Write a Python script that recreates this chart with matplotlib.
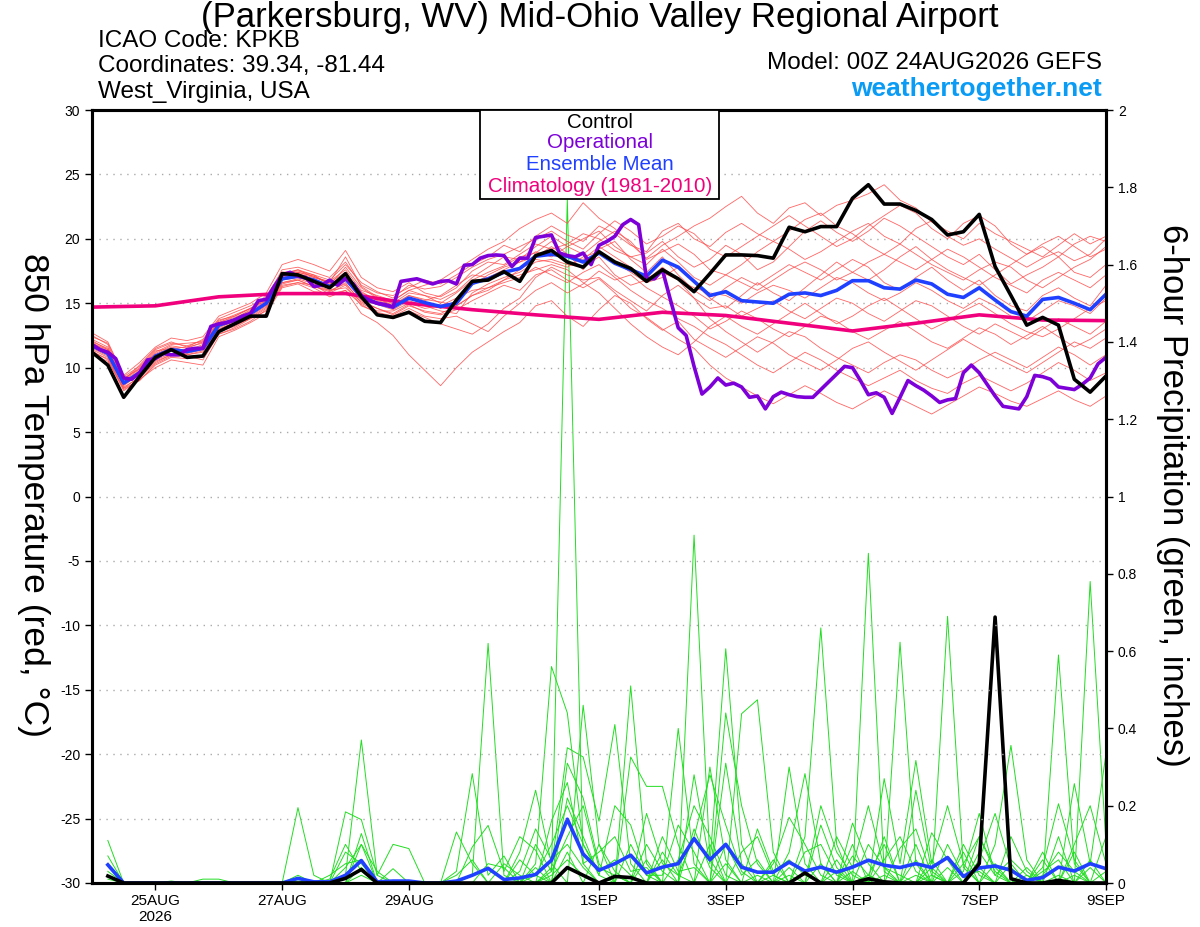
import matplotlib
matplotlib.use('Agg')
import matplotlib.pyplot as plt
import numpy as np
from matplotlib.patches import Rectangle

plt.rc('font', family=['Liberation Sans', 'DejaVu Sans'], size=10)
plt.rc('axes', unicode_minus=False)

############################## data (6-hourly from 00Z 24AUG2026) ##############################
control_t = [11.2, 10.2, 7.7, 9.3, 10.8, 11.4, 10.8, 10.9, 12.8, 13.4,
             14.0, 14.0, 17.3, 17.2, 16.7, 16.2, 17.3, 15.5, 14.1, 13.9,
             14.3, 13.6, 13.5, 15.25, 16.7, 16.8, 17.45, 16.7, 18.7, 19.1,
             18.2, 17.8, 19.0, 18.2, 17.7, 16.7, 17.6, 16.9, 15.9, 17.3,
             18.75, 18.75, 18.7, 18.5, 20.9, 20.55, 20.95, 20.95, 23.15, 24.2,
             22.7, 22.7, 22.2, 21.5, 20.3, 20.55, 21.9, 17.85, 15.6, 13.3,
             13.9, 13.3, 9.1, 8.1, 9.35]

mean_t = [11.7, 11.1, 8.8, 9.6, 10.9, 11.4, 11.25, 11.5, 13.3, 13.7,
          14.2, 15.0, 16.9, 17.1, 16.8, 16.3, 16.9, 15.5, 15.0, 14.7,
          15.4, 15.05, 14.75, 15.0, 16.55, 16.9, 17.4, 17.7, 18.65, 18.8,
          18.65, 18.2, 18.9, 18.1, 17.6, 17.1, 18.35, 17.8, 16.7, 15.6,
          15.9, 15.2, 15.1, 15.0, 15.7, 15.8, 15.6, 16.0, 16.75, 16.75,
          16.2, 16.1, 16.8, 16.5, 15.7, 15.45, 16.2, 15.25, 14.35, 14.0,
          15.3, 15.45, 15.0, 14.5, 15.7]

# operational run is 3-hourly
oper_t = [11.8, 11.4, 11.2, 10.7, 9.2, 9.1, 9.6, 10.6, 10.7, 11.1,
          11.0, 11.0, 11.4, 11.5, 11.5, 13.2, 13.4, 13.5, 13.7, 14.0,
          14.2, 15.2, 15.3, 16.3, 17.2, 17.4, 17.1, 17.0, 16.3, 16.4,
          16.8, 16.4, 16.9, 16.5, 15.6, 15.2, 15.0, 14.9, 14.7, 16.7,
          16.8, 16.9, 16.7, 16.5, 16.7, 16.75, 16.5, 17.95, 18.0, 18.5,
          18.7, 18.75, 18.7, 17.85, 18.5, 18.5, 20.1, 20.2, 20.3, 18.9,
          18.7, 18.6, 18.9, 18.0, 19.5, 19.8, 20.2, 21.1, 21.5, 21.1,
          16.9, 16.9, 17.6, 15.3, 13.1, 12.5, 10.1, 7.95, 8.5, 9.2,
          8.65, 8.8, 8.5, 7.7, 7.8, 6.8, 7.75, 8.1, 7.9, 7.75,
          7.7, 7.7, 8.3, 8.9, 9.5, 10.1, 10.0, 9.0, 7.9, 8.05,
          7.7, 6.45, 7.7, 9.0, 8.6, 8.25, 7.8, 7.3, 7.5, 7.6,
          9.6, 10.2, 9.6, 8.7, 7.8, 7.0, 6.9, 6.8, 7.75, 9.4,
          9.3, 9.1, 8.5, 8.4, 8.3, 8.7, 9.2, 10.3, 10.8]

# climatology, daily
clim_t = [14.7, 14.8, 15.5, 15.75, 15.75, 15.0, 14.5, 14.1, 13.75, 14.3,
          14.05, 13.45, 12.85, 13.45, 14.1, 13.7, 13.65]

members_t = [
    [12.5, 11.8, 9.0, 10.2, 11.5, 12.0, 11.6, 12.2, 13.8, 14.3,
     14.8, 15.4, 17.6, 17.8, 17.4, 17.0, 18.2, 16.4, 15.8, 15.6,
     16.2, 16.8, 16.5, 17.2, 18.0, 18.6, 19.5, 19.0, 20.2, 21.0,
     20.3, 19.8, 21.0, 20.4, 19.5, 19.0, 20.6, 21.2, 20.0, 19.4,
     20.5, 21.2, 20.4, 19.8, 20.6, 21.5, 22.0, 21.0, 20.4, 19.5,
     18.8, 19.6, 20.8, 21.4, 20.2, 19.5, 20.0, 19.2, 18.5, 17.8,
     18.5, 19.0, 18.3, 18.8, 20.0],
    [11.0, 10.5, 8.4, 9.0, 10.2, 10.8, 10.7, 11.0, 12.6, 13.0,
     13.6, 14.5, 16.4, 16.6, 16.2, 15.5, 16.0, 14.2, 13.5, 12.5,
     11.0, 9.8, 8.6, 10.0, 11.2, 12.0, 12.8, 13.5, 14.8, 15.2,
     14.0, 13.2, 14.5, 15.6, 15.0, 13.8, 12.9, 13.6, 12.2, 11.5,
     10.8, 11.6, 12.4, 11.9, 11.0, 10.4, 9.8, 10.6, 11.5, 12.0,
     11.2, 10.5, 9.8, 10.6, 11.4, 12.2, 11.5, 10.8, 10.2, 9.6,
     10.4, 11.2, 12.0, 11.5, 12.3],
    [12.0, 11.5, 9.2, 9.9, 11.2, 11.8, 11.9, 12.0, 13.6, 14.1,
     14.6, 15.2, 17.2, 17.6, 17.0, 16.7, 17.6, 16.0, 15.6, 15.2,
     16.0, 16.4, 16.8, 17.6, 18.4, 19.2, 19.8, 20.8, 21.5, 22.0,
     21.2, 22.8, 21.6, 20.8, 19.6, 18.5, 19.5, 20.2, 21.0, 21.6,
     22.5, 23.3, 22.0, 21.2, 22.4, 22.8, 21.8, 22.6, 23.0, 23.5,
     24.2, 23.0, 22.4, 21.3, 20.6, 20.0, 21.2, 20.4, 19.8, 19.2,
     18.6, 19.5, 20.4, 19.6, 20.2],
    [11.5, 10.9, 8.6, 9.5, 10.6, 11.1, 11.0, 11.2, 13.0, 13.5,
     14.0, 14.8, 16.6, 16.9, 16.5, 16.0, 16.5, 15.2, 14.6, 14.2,
     14.9, 14.3, 14.1, 14.5, 15.2, 15.8, 16.4, 16.0, 17.2, 17.6,
     16.8, 16.2, 16.9, 15.8, 14.6, 13.9, 13.0, 12.2, 11.5, 10.2,
     9.2, 8.5, 7.8, 7.2, 7.9, 8.6, 8.0, 7.3, 6.8, 7.5,
     8.2, 7.6, 7.0, 6.4, 7.1, 7.8, 8.5, 8.0, 7.4, 7.0,
     7.6, 8.2, 7.5, 7.0, 7.8],
    [12.7, 12.0, 9.4, 10.4, 11.6, 12.3, 12.1, 12.4, 14.0, 14.5,
     15.0, 15.8, 18.0, 18.4, 18.0, 17.5, 19.1, 17.0, 16.2, 15.9,
     16.6, 15.8, 15.5, 16.2, 17.5, 18.2, 18.0, 18.8, 19.6, 19.2,
     19.6, 20.4, 20.0, 19.1, 18.6, 18.9, 19.8, 18.6, 17.8, 18.4,
     19.5, 18.8, 17.6, 18.2, 19.4, 20.6, 21.4, 20.5, 19.8, 20.6,
     21.6, 21.0, 20.2, 19.4, 18.6, 18.0, 18.8, 17.6, 16.5, 17.2,
     17.8, 18.6, 17.4, 17.0, 18.0],
    [11.3, 10.6, 8.2, 9.1, 10.0, 10.6, 10.4, 10.2, 12.4, 12.9,
     13.5, 14.2, 16.2, 16.5, 15.9, 15.8, 16.4, 14.8, 14.3, 14.0,
     14.6, 14.0, 13.8, 14.0, 13.4, 12.8, 14.0, 15.0, 16.0, 16.6,
     15.8, 16.5, 17.5, 16.8, 17.2, 16.2, 15.5, 14.8, 14.0, 13.0,
     13.6, 14.4, 13.8, 13.0, 12.4, 13.2, 14.0, 13.6, 12.8, 12.2,
     12.9, 13.6, 12.8, 12.0, 11.5, 12.3, 13.1, 12.6, 11.8, 12.5,
     13.2, 12.4, 11.6, 12.2, 13.0],
    [11.9, 11.3, 8.9, 9.8, 11.0, 11.6, 11.3, 11.8, 13.5, 13.9,
     14.4, 15.2, 17.0, 17.3, 17.0, 16.6, 17.4, 15.8, 15.3, 15.0,
     15.8, 15.6, 15.0, 15.8, 16.8, 17.4, 17.9, 18.6, 18.9, 19.8,
     18.8, 17.6, 19.2, 19.8, 18.4, 17.4, 18.6, 17.2, 16.0, 15.2,
     16.2, 17.0, 16.4, 17.2, 18.0, 17.4, 16.8, 17.6, 18.4, 17.8,
     16.6, 16.0, 17.0, 17.8, 16.8, 16.0, 16.8, 15.6, 14.8, 14.4,
     15.6, 16.2, 15.4, 14.8, 16.4],
    [11.6, 11.0, 8.5, 9.2, 10.4, 11.0, 11.4, 11.6, 12.9, 13.3,
     13.8, 14.4, 16.3, 16.6, 16.4, 15.7, 16.0, 14.9, 14.2, 13.8,
     14.4, 13.9, 13.4, 13.0, 12.6, 13.4, 14.6, 15.4, 17.0, 17.8,
     17.2, 16.8, 17.0, 16.0, 15.2, 14.4, 15.6, 16.4, 15.4, 13.8,
     12.8, 12.0, 11.2, 12.0, 12.8, 12.4, 11.5, 10.8, 10.2, 9.6,
     10.4, 11.0, 10.6, 9.8, 9.2, 9.8, 10.6, 11.2, 10.6, 10.0,
     10.8, 11.6, 11.0, 10.2, 11.0],
    [12.2, 11.6, 9.1, 10.0, 11.3, 11.5, 11.6, 11.9, 13.4, 13.8,
     14.5, 15.6, 17.4, 17.5, 17.2, 16.4, 17.8, 16.2, 15.4, 14.8,
     15.6, 15.2, 15.6, 16.4, 17.2, 17.0, 17.6, 18.2, 19.0, 18.6,
     19.4, 18.8, 19.8, 20.6, 19.8, 18.4, 19.0, 19.6, 18.8, 17.6,
     17.2, 18.0, 19.0, 19.8, 19.2, 18.4, 19.0, 19.8, 20.6, 21.2,
     20.2, 19.6, 18.8, 18.0, 17.4, 16.8, 17.6, 18.2, 17.8, 16.8,
     16.2, 17.0, 17.8, 18.4, 19.4],
    [11.8, 11.2, 8.7, 9.4, 10.8, 11.3, 11.0, 11.3, 13.2, 13.6,
     14.1, 14.9, 16.8, 17.0, 16.6, 16.2, 16.8, 15.3, 14.9, 14.5,
     15.2, 14.8, 14.4, 14.2, 15.8, 16.5, 17.0, 17.4, 18.2, 18.4,
     18.0, 17.8, 18.6, 17.2, 16.4, 16.8, 17.8, 16.8, 15.4, 14.6,
     14.8, 14.0, 14.6, 15.2, 14.4, 13.8, 14.6, 15.4, 15.0, 14.2,
     13.6, 14.4, 15.2, 14.8, 14.0, 13.2, 12.6, 13.4, 12.8, 12.2,
     13.0, 13.8, 13.2, 12.6, 13.6],
    [12.4, 11.9, 9.3, 10.1, 11.4, 11.9, 11.7, 12.1, 13.7, 14.0,
     14.6, 15.3, 17.3, 17.6, 17.2, 16.8, 18.0, 16.6, 15.9, 15.4,
     16.4, 16.1, 16.3, 17.0, 17.8, 18.4, 18.8, 19.4, 20.0, 20.6,
     19.8, 19.2, 20.4, 21.4, 20.6, 19.6, 20.2, 21.0, 20.4, 19.2,
     18.6, 19.4, 20.2, 21.0, 21.8, 21.0, 20.2, 19.4, 20.0, 21.0,
     21.8, 22.6, 22.0, 20.8, 20.0, 21.2, 21.8, 21.0, 19.6, 18.8,
     19.6, 20.2, 19.4, 18.6, 19.2],
    [11.4, 10.8, 8.3, 9.0, 10.3, 10.9, 10.9, 10.6, 12.6, 13.1,
     13.8, 14.6, 16.6, 16.8, 16.3, 15.9, 16.6, 15.0, 14.4, 14.4,
     15.0, 14.6, 14.8, 15.4, 16.0, 16.2, 16.8, 17.2, 17.6, 18.0,
     17.6, 16.6, 15.8, 14.6, 13.4, 12.4, 11.6, 11.0, 12.0, 13.2,
     14.0, 13.2, 12.6, 13.4, 14.2, 15.0, 14.2, 13.4, 14.0, 14.8,
     15.4, 14.6, 13.8, 13.0, 13.6, 14.4, 15.0, 14.2, 13.4, 12.8,
     12.4, 13.0, 13.8, 14.6, 15.2],
    [12.1, 11.4, 9.0, 9.9, 11.1, 11.7, 11.5, 12.0, 13.5, 14.0,
     14.6, 15.4, 17.1, 17.4, 17.1, 16.6, 18.6, 16.3, 15.5, 15.2,
     16.0, 15.6, 15.3, 15.9, 17.0, 17.8, 18.6, 18.4, 19.4, 20.2,
     19.4, 20.0, 20.6, 19.4, 18.6, 18.0, 19.2, 18.2, 17.0, 16.4,
     17.2, 16.6, 16.0, 16.8, 17.6, 18.2, 17.6, 16.8, 17.4, 18.2,
     18.8, 18.2, 17.6, 18.4, 19.2, 18.6, 17.8, 17.0, 16.4, 15.8,
     16.8, 17.4, 16.8, 16.2, 17.2],
    [11.2, 10.7, 8.4, 9.3, 10.5, 11.0, 11.1, 11.4, 12.8, 13.2,
     13.9, 14.7, 16.5, 16.8, 16.3, 16.0, 16.2, 15.1, 14.6, 14.1,
     14.8, 14.4, 14.2, 14.8, 15.6, 16.2, 16.6, 17.0, 17.8, 17.2,
     16.6, 17.4, 18.0, 17.0, 16.0, 15.2, 14.6, 13.8, 13.2, 12.4,
     11.8, 11.0, 10.2, 9.6, 10.4, 11.2, 10.6, 9.8, 9.2, 8.6,
     9.2, 9.8, 9.0, 8.4, 8.0, 8.8, 9.4, 8.8, 8.2, 8.8,
     9.6, 10.4, 9.8, 9.0, 9.6],
    [11.7, 11.1, 8.8, 9.7, 10.9, 11.4, 11.4, 11.4, 13.1, 13.6,
     14.2, 15.0, 17.0, 17.2, 16.9, 16.4, 17.0, 15.6, 15.1, 14.8,
     15.4, 15.0, 14.6, 15.2, 16.4, 17.2, 17.8, 18.2, 18.6, 19.4,
     18.6, 18.4, 19.4, 18.6, 17.8, 17.0, 17.4, 16.8, 16.2, 15.8,
     15.6, 15.0, 15.8, 16.4, 16.0, 15.4, 16.2, 17.0, 16.6, 15.8,
     15.2, 15.8, 16.6, 16.0, 15.2, 14.6, 15.4, 14.8, 14.0, 13.6,
     14.4, 15.2, 14.8, 14.2, 15.4],
    [11.9, 11.4, 8.9, 9.6, 11.0, 11.5, 11.2, 11.7, 13.3, 13.8,
     14.3, 15.1, 17.2, 17.4, 17.1, 16.5, 17.2, 15.9, 15.2, 14.9,
     15.6, 15.3, 15.1, 14.8, 15.6, 16.0, 16.8, 17.6, 18.4, 18.2,
     17.8, 18.6, 19.0, 18.2, 17.4, 16.6, 17.0, 17.8, 16.6, 15.4,
     14.6, 15.6, 16.6, 15.8, 15.2, 16.2, 17.2, 18.2, 17.4, 16.8,
     17.6, 18.6, 19.4, 18.4, 17.6, 17.0, 16.4, 17.2, 18.0, 18.8,
     19.4, 18.6, 19.6, 20.2, 19.8],
]

# 6-hour precipitation, first value is 06Z 24AUG
control_p = [0.018, 0, 0, 0, 0, 0, 0, 0, 0, 0, 0, 0, 0, 0, 0, 0.012,
             0.035, 0, 0, 0, 0, 0, 0, 0, 0, 0, 0, 0, 0, 0.04, 0.02, 0,
             0.017, 0.014, 0, 0, 0, 0, 0, 0, 0, 0, 0, 0, 0.026, 0, 0, 0,
             0.011, 0.003, 0, 0, 0, 0, 0, 0.05, 0.688, 0.011, 0, 0, 0.007, 0, 0, 0]

mean_p = [0.047, 0, 0, 0, 0, 0, 0, 0, 0, 0, 0, 0, 0.012, 0.003, 0.003, 0.02,
          0.058, 0.003, 0.005, 0.005, 0, 0, 0.005, 0.02, 0.038, 0.009, 0.013, 0.022, 0.059, 0.165, 0.075, 0.033,
          0.05, 0.072, 0.026, 0.041, 0.05, 0.115, 0.06, 0.1, 0.041, 0.028, 0.028, 0.054, 0.031, 0.041, 0.028, 0.041,
          0.059, 0.046, 0.04, 0.05, 0.04, 0.066, 0.017, 0.039, 0.044, 0.033, 0.007, 0.014, 0.041, 0.031, 0.05, 0.037]

members_p = [
    [0.11, 0, 0, 0, 0, 0, 0, 0, 0, 0, 0, 0, 0, 0, 0, 0.02,
     0.37, 0.02, 0, 0, 0, 0, 0, 0, 0, 0, 0, 0, 0.03, 1.77, 0.05, 0,
     0.02, 0, 0, 0.08, 0.02, 0, 0, 0.31, 0.05, 0, 0, 0, 0.12, 0.66, 0.1, 0,
     0, 0.02, 0, 0, 0.04, 0, 0, 0.12, 0.03, 0, 0, 0, 0.59, 0.05, 0, 0.03],
    [0.07, 0, 0, 0, 0, 0, 0, 0, 0, 0, 0, 0, 0.195, 0.02, 0, 0.04,
     0.1, 0, 0, 0, 0, 0, 0, 0.02, 0.62, 0.02, 0, 0.05, 0.56, 0.44, 0.1, 0.02,
     0, 0, 0.06, 0, 0, 0.9, 0.06, 0, 0, 0.02, 0, 0.3, 0.05, 0, 0, 0,
     0.02, 0, 0, 0.1, 0, 0.69, 0.04, 0, 0, 0.05, 0, 0, 0, 0, 0.78, 0.1],
    [0.05, 0, 0, 0, 0, 0, 0, 0, 0, 0, 0, 0, 0, 0, 0, 0.184,
     0.164, 0.02, 0.1, 0.089, 0, 0, 0.132, 0.05, 0, 0, 0.08, 0.24, 0.05, 0, 0.46, 0.1,
     0, 0.51, 0.05, 0, 0, 0.28, 0.05, 0.606, 0.1, 0, 0.02, 0, 0, 0, 0.06, 0,
     0.853, 0.03, 0, 0, 0.02, 0, 0, 0, 0.1, 0.356, 0.06, 0, 0.02, 0, 0, 0],
    [0.02, 0, 0, 0, 0, 0, 0, 0, 0, 0, 0, 0, 0, 0, 0, 0,
     0.128, 0, 0.037, 0, 0, 0, 0.03, 0.283, 0.02, 0.07, 0, 0, 0.04, 0.35, 0.326, 0.16,
     0.41, 0.05, 0, 0, 0.4, 0.05, 0, 0, 0.438, 0.474, 0.08, 0, 0, 0.05, 0, 0.155,
     0.05, 0, 0.623, 0.05, 0, 0, 0.03, 0.18, 0.02, 0, 0, 0.04, 0.205, 0.06, 0, 0],
    [0, 0, 0, 0, 0, 0, 0, 0, 0, 0, 0, 0, 0, 0, 0, 0,
     0.1, 0.03, 0, 0, 0, 0, 0, 0.093, 0.149, 0.03, 0.12, 0.085, 0, 0.31, 0.22, 0.05,
     0, 0.326, 0.25, 0.25, 0.1, 0, 0.3, 0.06, 0, 0, 0, 0.08, 0.283, 0.05, 0, 0.03,
     0, 0.27, 0.05, 0.317, 0.05, 0.2, 0.05, 0, 0, 0, 0.02, 0, 0, 0.257, 0.05, 0.334],
    [0, 0, 0, 0, 0, 0, 0, 0, 0, 0, 0, 0, 0, 0, 0, 0,
     0, 0, 0, 0, 0, 0, 0, 0, 0, 0, 0, 0.02, 0.1, 0.2, 0.1, 0.03,
     0.06, 0.02, 0, 0.12, 0.03, 0.04, 0, 0.44, 0.2, 0.05, 0, 0.02, 0, 0.15, 0.04, 0,
     0.02, 0.1, 0, 0.24, 0.03, 0, 0.08, 0, 0.05, 0, 0, 0.02, 0.08, 0.03, 0, 0],
    [0, 0, 0, 0, 0, 0, 0, 0, 0, 0, 0, 0, 0, 0, 0, 0,
     0, 0, 0, 0, 0, 0, 0, 0, 0, 0.05, 0.02, 0, 0.16, 0.26, 0.05, 0.08,
     0.12, 0.03, 0.04, 0, 0.06, 0.2, 0.12, 0.02, 0, 0.14, 0.03, 0.06, 0.02, 0, 0.12, 0.04,
     0.2, 0.04, 0.02, 0, 0.13, 0.06, 0, 0.08, 0.02, 0.06, 0.02, 0, 0, 0.1, 0.2, 0.05],
    [0.03, 0, 0, 0, 0, 0, 0, 0, 0, 0, 0, 0, 0, 0, 0.02, 0.05,
     0.06, 0, 0, 0, 0, 0, 0, 0, 0.05, 0.04, 0, 0.1, 0.03, 0.12, 0.2, 0.04,
     0.02, 0, 0.18, 0.05, 0.02, 0.12, 0.28, 0.15, 0.03, 0, 0.05, 0.17, 0.1, 0.02, 0, 0.07,
     0.02, 0, 0.09, 0.14, 0.02, 0, 0.05, 0.12, 0.04, 0, 0, 0.03, 0.06, 0, 0, 0],
    [0, 0, 0, 0, 0, 0, 0, 0, 0, 0, 0, 0, 0, 0, 0, 0,
     0.04, 0, 0, 0, 0, 0, 0.02, 0.06, 0, 0, 0.03, 0.14, 0.06, 0.1, 0.04, 0,
     0, 0.1, 0.02, 0.02, 0.15, 0.08, 0, 0.1, 0.02, 0.06, 0, 0, 0.08, 0.1, 0.02, 0,
     0.1, 0.04, 0, 0.06, 0, 0.1, 0.02, 0.03, 0, 0.12, 0.03, 0, 0.12, 0, 0.04, 0],
    [0, 0, 0, 0, 0, 0, 0, 0, 0, 0, 0, 0, 0.02, 0, 0, 0.08,
     0.05, 0, 0, 0, 0, 0, 0, 0, 0, 0, 0.06, 0.02, 0, 0.22, 0.12, 0.02,
     0.2, 0.15, 0.02, 0, 0, 0.14, 0.04, 0, 0.08, 0.12, 0.02, 0, 0, 0.2, 0.08, 0.02,
     0, 0.06, 0.12, 0.03, 0, 0.04, 0, 0.06, 0.18, 0.04, 0, 0.06, 0, 0.08, 0, 0.12],
    [0.01, 0, 0, 0, 0.005, 0, 0.01, 0.01, 0, 0, 0, 0, 0, 0, 0, 0,
     0.02, 0, 0, 0, 0, 0, 0, 0, 0, 0, 0, 0, 0.02, 0.06, 0.02, 0,
     0, 0, 0.1, 0.03, 0, 0, 0, 0.05, 0, 0, 0, 0.04, 0, 0, 0, 0.1,
     0, 0, 0, 0.02, 0, 0, 0.1, 0.02, 0, 0, 0.04, 0, 0, 0, 0.06, 0],
    [0, 0, 0, 0, 0, 0, 0, 0, 0, 0, 0, 0, 0.005, 0, 0.01, 0.1,
     0.03, 0, 0, 0, 0, 0, 0, 0, 0, 0, 0, 0.04, 0, 0.08, 0, 0.1,
     0.03, 0, 0, 0.06, 0, 0, 0.1, 0, 0, 0, 0.06, 0, 0, 0, 0.03, 0,
     0, 0.12, 0, 0, 0.06, 0, 0, 0.04, 0, 0, 0, 0.08, 0, 0.02, 0, 0],
]

tick_days = [1, 3, 5, 8, 10, 12, 14, 16]
tick_labels = ['25AUG\n2026', '27AUG', '29AUG', '1SEP', '3SEP', '5SEP', '7SEP', '9SEP']

##################################################################################################
days_t = np.arange(len(control_t)) * 0.25
days_op = np.arange(len(oper_t)) * 0.125
days_clim = np.arange(len(clim_t))
days_p = np.arange(1, len(control_p) + 1) * 0.25

c_oper = '#7d00d8'
c_mean = '#2040ff'
c_clim = '#f0007c'

fig = plt.figure(figsize=(12, 9.27), dpi=100)
ax = fig.add_axes([92 / 1200, 1 - 883 / 927, 1014 / 1200, 773 / 927])
ax2 = ax.twinx()
ax.set_zorder(ax2.get_zorder() + 1)
ax.patch.set_visible(False)

for m in members_p:
    ax2.plot(days_p, m, '-', color='#22dd22', lw=0.7)
ax2.plot(days_p, mean_p, '-', color=c_mean, lw=2.6)
ax2.plot(days_p, control_p, '-', color='black', lw=2.6)

for m in members_t:
    ax.plot(days_t, m, '-', color='#ff4a4a', lw=0.6, alpha=0.85)
ax.plot(days_clim, clim_t, '-', color=c_clim, lw=2.6)
ax.plot(days_t, mean_t, '-', color=c_mean, lw=2.6)
ax.plot(days_op, oper_t, '-', color=c_oper, lw=2.6)
ax.plot(days_t, control_t, '-', color='black', lw=2.6)

ax.set_xlim(0, 16)
ax.set_ylim(-30, 30)
ax.set_yticks(np.arange(-30, 31, 5))
ax.set_xticks(tick_days)
ax.set_xticklabels(tick_labels)
ax.yaxis.grid(True, linestyle=(0, (1, 4)), color='#aaaaaa', lw=1)
ax.tick_params(axis='y', direction='out', length=5, width=1, labelsize=10)
ax.tick_params(axis='x', direction='out', length=5, width=1, labelsize=11, pad=3)

ax2.set_ylim(0, 2)
ax2.set_yticks(np.arange(0, 2.01, 0.2))
ax2.yaxis.set_major_formatter(matplotlib.ticker.FormatStrFormatter('%g'))
ax2.tick_params(axis='y', direction='out', length=5, width=1, labelsize=10)

for a in (ax, ax2):
    for s in a.spines.values():
        s.set_linewidth(2.2)

# the title sits slightly over the first header line, as in the original
fig.text(0.5, 1 - 17 / 927, '(Parkersburg, WV) Mid-Ohio Valley Regional Airport',
         ha='center', va='center', fontsize=25)
fig.text(98 / 1200, 1 - 41 / 927, 'ICAO Code: KPKB', ha='left', va='center', fontsize=17.5)
fig.text(98 / 1200, 1 - 66 / 927, 'Coordinates: 39.34, -81.44', ha='left', va='center', fontsize=17.5)
fig.text(98 / 1200, 1 - 92 / 927, 'West_Virginia, USA', ha='left', va='center', fontsize=17.5)
fig.text(1102 / 1200, 1 - 63 / 927, 'Model: 00Z 24AUG2026 GEFS', ha='right', va='center', fontsize=17.5)
fig.text(1102 / 1200, 1 - 89 / 927, 'weathertogether.net', ha='right', va='center',
         fontsize=19, fontweight='bold', color='#0a9cf5')

fig.text(33 / 1200, 1 - 495 / 927, '850 hPa Temperature (red, °C)', rotation=-90,
         ha='center', va='center', fontsize=25.5)
fig.text(1172 / 1200, 1 - 495 / 927, '6-hour Precipitation (green, inches)', rotation=-90,
         ha='center', va='center', fontsize=25)

# legend box
fig.patches.append(Rectangle((480 / 1200, 1 - 199 / 927), 239 / 1200, 89 / 927,
                             transform=fig.transFigure, facecolor='white',
                             edgecolor='black', lw=1.3, zorder=5))
for txt, col, yy in [('Control', 'black', 122), ('Operational', c_oper, 143),
                     ('Ensemble Mean', c_mean, 164), ('Climatology (1981-2010)', c_clim, 186)]:
    fig.text(600 / 1200, 1 - yy / 927, txt, ha='center', va='center', fontsize=14.8,
             color=col, zorder=6)

fig.savefig('out.png', dpi=100)
